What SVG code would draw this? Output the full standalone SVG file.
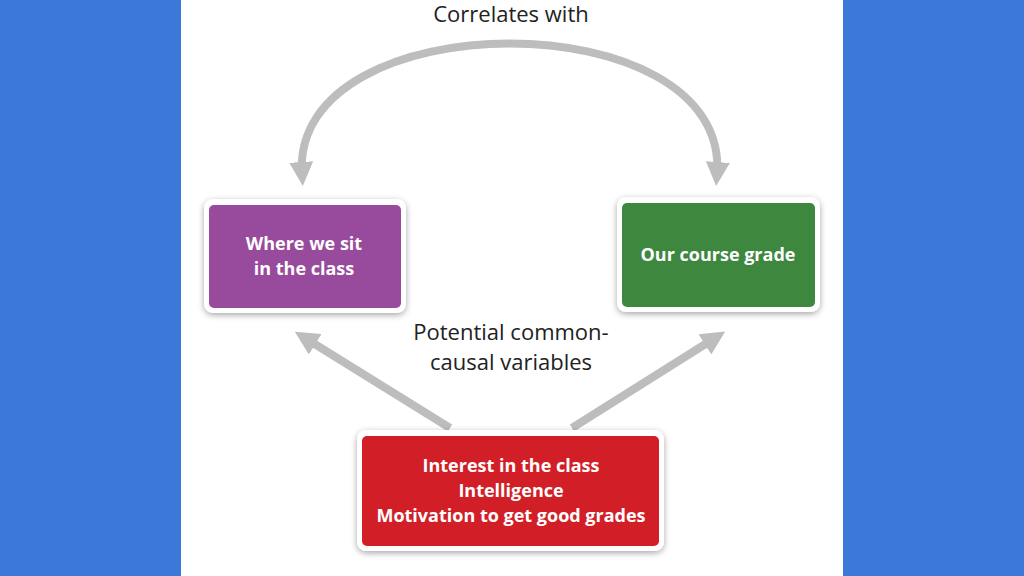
<svg xmlns="http://www.w3.org/2000/svg" width="1024" height="576" viewBox="0 0 1024 576">
<defs>
<marker id="ah" viewBox="0 0 10 10" refX="5" refY="5" markerWidth="3" markerHeight="3" orient="auto-start-reverse" markerUnits="strokeWidth"><path d="M0,0 L10,5 L0,10 z" fill="#bdbdbd"/></marker>
<filter id="sh" x="-10%" y="-10%" width="120%" height="130%"><feDropShadow dx="0" dy="2" stdDeviation="3" flood-color="#000" flood-opacity="0.35"/></filter>
</defs>
<style>
.t{font-family:"Open Sans","Liberation Sans",sans-serif;font-size:18px;font-weight:bold;fill:#fff;text-anchor:middle}
.l{font-family:"Open Sans","Liberation Sans",sans-serif;font-size:22px;fill:#222;text-anchor:middle}
.c{fill:none;stroke:#bdbdbd;stroke-width:8}
.o{fill:#fff;filter:url(#sh)}
</style>
<rect width="1024" height="576" fill="#3c78d8"/>
<rect x="181" y="0" width="662" height="576" fill="#fff"/>
<g id="connectors">
<path class="c" d="M302,174 C290,0 730,0 717,174" marker-start="url(#ah)" marker-end="url(#ah)"/>
<path class="c" d="M450,428 L305,338" marker-end="url(#ah)"/>
<path class="c" d="M572,428 L715,338" marker-end="url(#ah)"/>
</g>
<text class="l" x="511" y="22">Correlates with</text>
<text class="l" x="511" y="340">Potential common-</text>
<text class="l" x="511" y="370">causal variables</text>
<g id="n1"><rect class="o" x="204" y="199" width="202" height="114" rx="9"/><rect x="209" y="205" width="192" height="103" rx="5" fill="#984a9c"/>
<text class="t" x="304" y="250">Where we sit</text><text class="t" x="304" y="275">in the class</text></g>
<g id="n2"><rect class="o" x="617" y="197" width="203" height="115" rx="9"/><rect x="622" y="203" width="193" height="104" rx="5" fill="#3e873f"/>
<text class="t" x="718" y="261">Our course grade</text></g>
<g id="n3"><rect class="o" x="357" y="430" width="307" height="121" rx="9"/><rect x="362" y="436" width="297" height="110" rx="5" fill="#d21f27"/>
<text class="t" x="511" y="472">Interest in the class</text><text class="t" x="511" y="497">Intelligence</text><text class="t" x="511" y="522">Motivation to get good grades</text></g>
</svg>
